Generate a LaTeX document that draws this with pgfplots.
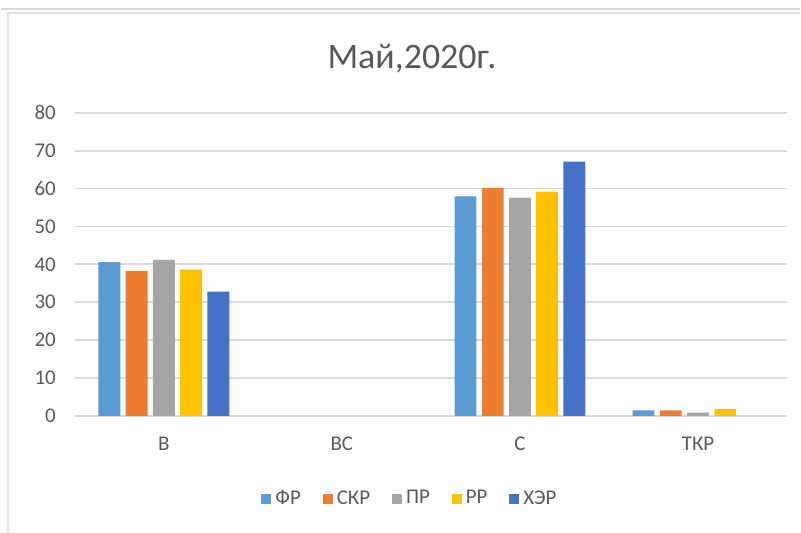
\documentclass[border=0pt]{standalone}
\usepackage{pgfplots}
\pgfplotsset{compat=1.18}
\usepackage{fontspec}
\setmainfont{Carlito}
\definecolor{cFR}{HTML}{5B9BD5}
\definecolor{cSKR}{HTML}{ED7D31}
\definecolor{cPR}{HTML}{A5A5A5}
\definecolor{cRR}{HTML}{FFC000}
\definecolor{cHER}{HTML}{4472C4}
\definecolor{txtgray}{HTML}{595959}
\definecolor{gridgray}{HTML}{D9D9D9}
\begin{document}
\begin{tikzpicture}
% picture frame, 801x533 px at 0.5pt per px
\path (0,0) rectangle (400.5pt,266.5pt);
\draw[gridgray, line width=1pt] (0,262pt) -- (400.5pt,262pt);
\draw[gridgray!80, line width=0.6pt] (3.5pt,0) -- (3.5pt,260pt) -- (400.5pt,260pt);
\node[font=\fontsize{18}{20}\selectfont, text=txtgray] at (206pt,237pt) {Май,2020г.};
\begin{axis}[
    at={(37pt,58pt)}, anchor=south west,
    width=357pt, height=152pt, scale only axis,
    ybar, bar width=0.123,
    xmin=-0.5, xmax=3.5,
    xtick={0,1,2,3},
    xticklabels={В,ВС,С,ТКР},
    ymin=0, ymax=80,
    ytick={0,10,...,80},
    ymajorgrids,
    grid style={gridgray, line width=0.9pt},
    axis line style={draw=none},
    major tick length=0pt,
    /pgf/number format/assume math mode=true,
    tick label style={font=\fontsize{10.5}{12}\selectfont, text=txtgray},
    xticklabel style={yshift=-7pt},
    yticklabel style={xshift=-6pt},
    legend style={
        at={(0.472,-0.273)}, anchor=center,
        draw=none, fill=none,
        legend columns=-1,
        font=\fontsize{10.5}{12}\selectfont, text=txtgray,
        /tikz/every even column/.append style={column sep=9pt},
    },
    legend image code/.code={\fill[#1] (0pt,-2.5pt) rectangle (5pt,2.5pt);},
]
\addplot[fill=cFR, draw=none, bar shift=-0.306] coordinates {(0,40.6) (2,57.9) (3,1.5)};
\addlegendentry{ФР}
\addplot[fill=cSKR, draw=none, bar shift=-0.153] coordinates {(0,38.2) (2,60.2) (3,1.5)};
\addlegendentry{СКР}
\addplot[fill=cPR, draw=none, bar shift=0] coordinates {(0,41.2) (2,57.6) (3,0.9)};
\addlegendentry{ПР}
\addplot[fill=cRR, draw=none, bar shift=0.153] coordinates {(0,38.6) (2,59.2) (3,1.8)};
\addlegendentry{РР}
\addplot[fill=cHER, draw=none, bar shift=0.306] coordinates {(0,32.8) (2,67.1)};
\addlegendentry{ХЭР}
\end{axis}
\end{tikzpicture}
\end{document}
